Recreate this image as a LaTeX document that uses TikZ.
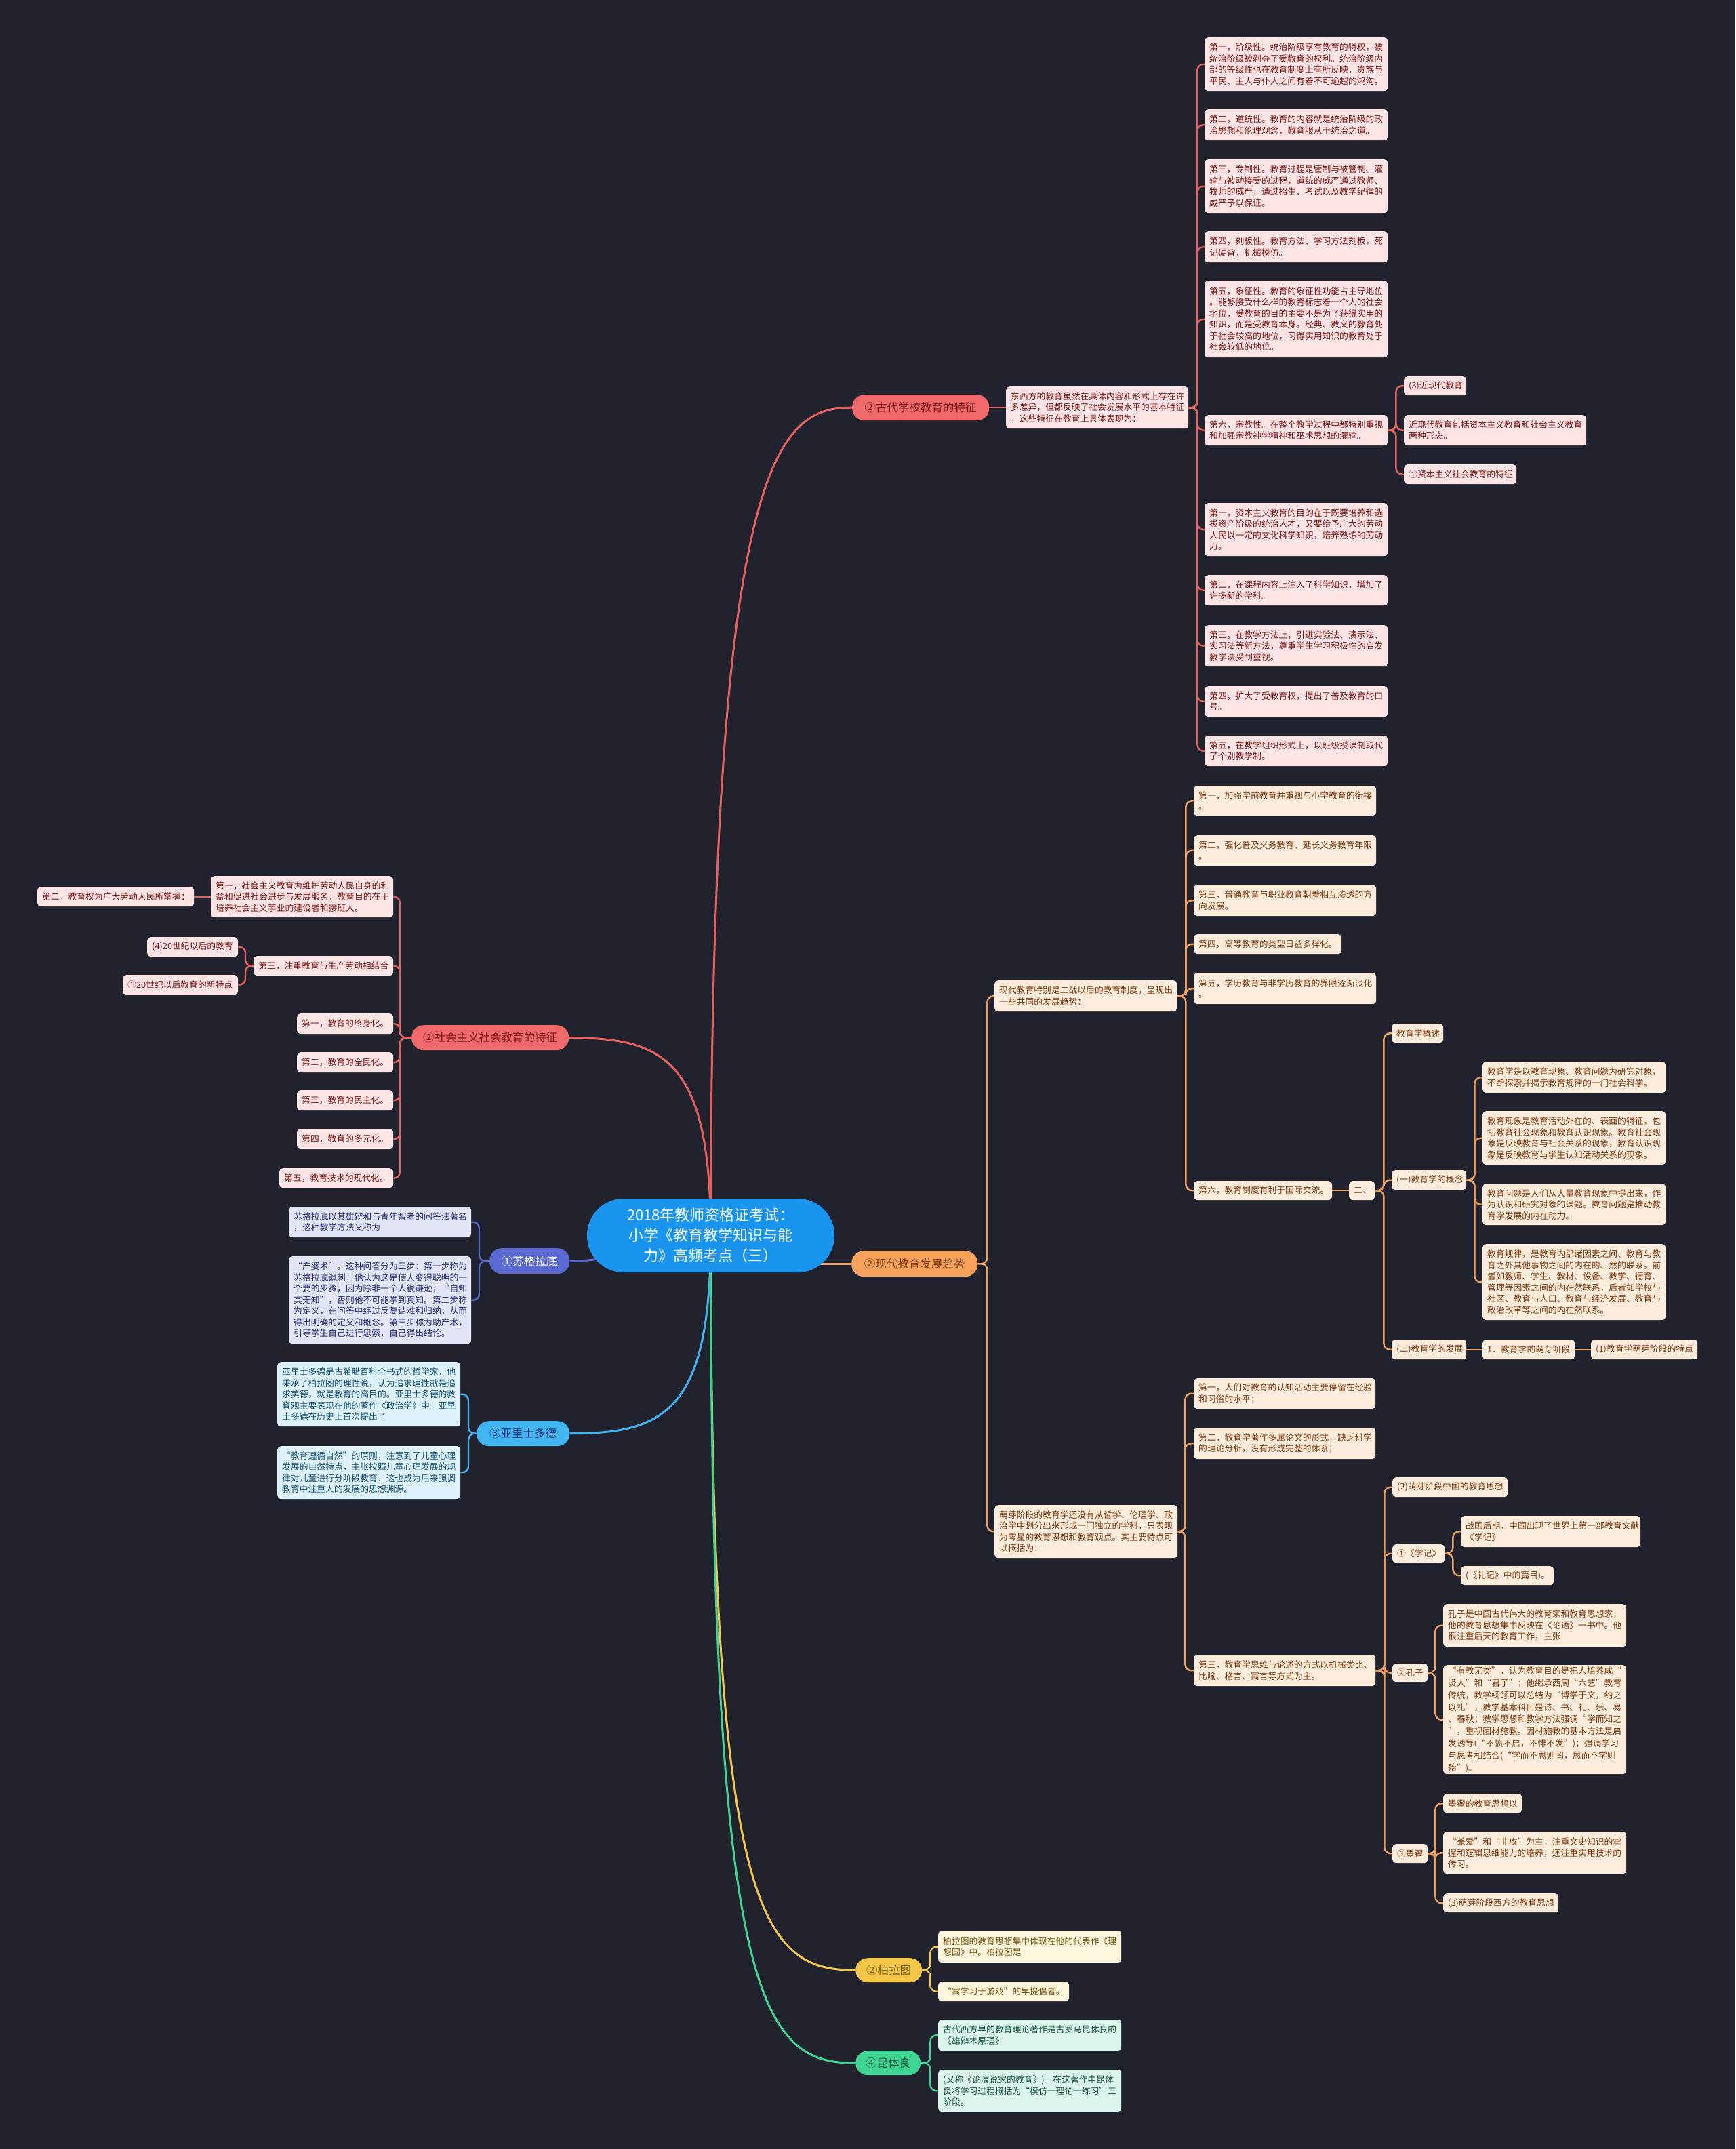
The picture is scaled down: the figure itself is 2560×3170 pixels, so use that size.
\documentclass[tikz,border=0pt]{standalone}
\usepackage{fontspec}
\setmainfont{Noto Sans CJK SC}
\usetikzlibrary{calc}
\definecolor{bgc}{HTML}{20232E}
\definecolor{lnR}{HTML}{E8605E}
\definecolor{fR}{HTML}{FDE4E4}
\definecolor{tR}{HTML}{7A1818}
\definecolor{mR}{HTML}{F0696A}
\definecolor{lnO}{HTML}{F2A05E}
\definecolor{fO}{HTML}{FDEBDC}
\definecolor{tO}{HTML}{7A3C10}
\definecolor{mO}{HTML}{F7A15B}
\definecolor{lnI}{HTML}{5B6AD2}
\definecolor{fI}{HTML}{E2E4F7}
\definecolor{tI}{HTML}{262C6E}
\definecolor{lnB}{HTML}{40B5F2}
\definecolor{fB}{HTML}{DDF2FD}
\definecolor{tB}{HTML}{15506E}
\definecolor{lnY}{HTML}{F5C84A}
\definecolor{fY}{HTML}{FDF5DC}
\definecolor{tY}{HTML}{705510}
\definecolor{lnG}{HTML}{3ED491}
\definecolor{fG}{HTML}{DCF5EA}
\definecolor{tG}{HTML}{165538}
\definecolor{ctr}{HTML}{1A95EF}
\newcommand\leaffont{\fontsize{12.8pt}{16.5pt}\selectfont}
\newcommand\brfont{\fontsize{16.5pt}{20pt}\selectfont}
\newcommand\ctrfont{\fontsize{22pt}{30pt}\selectfont}
\newcommand\nbx[7]{%
  \pgfmathsetmacro\bw{#5-#3}\pgfmathsetmacro\bh{#6-#4}\pgfmathsetmacro\tw{#5-#3-14}%
  \node[#2, anchor=north west, minimum width=\bw pt, minimum height=\bh pt, text width=\tw pt] (#1) at (#3,#4) {#7};}
\pgfdeclarelayer{back}\pgfdeclarelayer{links}
\pgfsetlayers{back,links,main}
\tikzset{
  leaf/.style={rounded corners=5pt, inner xsep=7pt, inner ysep=1pt, align=left, font=\leaffont},
  lR/.style={leaf, fill=fR, text=tR},
  lO/.style={leaf, fill=fO, text=tO},
  lI/.style={leaf, fill=fI, text=tI},
  lB/.style={leaf, fill=fB, text=tB},
  lY/.style={leaf, fill=fY, text=tY},
  lG/.style={leaf, fill=fG, text=tG},
  brbox/.style={rounded corners=18pt, inner xsep=7pt, inner ysep=0pt, align=center, font=\brfont},
  cR/.style={draw=lnR, line width=2.4pt, rounded corners=9pt},
  cO/.style={draw=lnO, line width=2.4pt, rounded corners=9pt},
  cI/.style={draw=lnI, line width=2.4pt, rounded corners=9pt},
  cB/.style={draw=lnB, line width=2.4pt, rounded corners=9pt},
  cY/.style={draw=lnY, line width=2.4pt, rounded corners=9pt},
  cG/.style={draw=lnG, line width=2.4pt, rounded corners=9pt},
  mk/.style={line width=3pt}
}
\begin{document}
\begin{tikzpicture}[x=1pt,y=-1pt]
\begin{pgfonlayer}{back}
\fill[bgc] (0,0) rectangle (2560,3170);
\end{pgfonlayer}
\useasboundingbox (0,0) rectangle (2560,3170);

% center
\node[fill=ctr, text=white, rounded corners=54pt, minimum width=365pt, minimum height=109pt, align=center, font=\ctrfont, inner sep=0pt] (ctr) at (1048.5,1822.5) {2018年教师资格证考试：\\小学《教育教学知识与能\\力》高频考点（三）};

% ---------- red: ancient ----------
\nbx{gudai}{brbox, fill=mR, text=tR}{1257}{582}{1459}{620}{②古代学校教育的特征}
\nbx{gintro}{lR}{1484}{570}{1753}{632}{东西方的教育虽然在具体内容和形式上存在许\\多差异，但都反映了社会发展水平的基本特征\\，这些特征在教育上具体表现为：}
\nbx{a1}{lR}{1777}{55}{2047}{134}{第一，阶级性。统治阶级享有教育的特权，被\\统治阶级被剥夺了受教育的权利。统治阶级内\\部的等级性也在教育制度上有所反映．贵族与\\平民、主人与仆人之间有着不可逾越的鸿沟。}
\nbx{a2}{lR}{1777}{161}{2047}{207}{第二，道统性。教育的内容就是统治阶级的政\\治思想和伦理观念，教育服从于统治之道。}
\nbx{a3}{lR}{1777}{235}{2047}{314}{第三，专制性。教育过程是管制与被管制、灌\\输与被动接受的过程，道统的威严通过教师、\\牧师的威严，通过招生、考试以及教学纪律的\\威严予以保证。}
\nbx{a4}{lR}{1777}{341}{2047}{387}{第四，刻板性。教育方法、学习方法刻板，死\\记硬背，机械模仿。}
\nbx{a5}{lR}{1777}{414}{2047}{527}{第五，象征性。教育的象征性功能占主导地位\\。能够接受什么样的教育标志着一个人的社会\\地位，受教育的目的主要不是为了获得实用的\\知识，而是受教育本身。经典、教义的教育处\\于社会较高的地位，习得实用知识的教育处于\\社会较低的地位。}
\nbx{a6}{lR}{1777}{612}{2047}{657}{第六，宗教性。在整个教学过程中都特别重视\\和加强宗教神学精神和巫术思想的灌输。}
\nbx{jx1}{lR}{2071}{555}{2163}{583}{(3)近现代教育}
\nbx{jx2}{lR}{2071}{612}{2340}{657}{近现代教育包括资本主义教育和社会主义教育\\两种形态。}
\nbx{jx3}{lR}{2071}{685}{2237}{714}{①资本主义社会教育的特征}
\nbx{z1}{lR}{1777}{742}{2047}{820}{第一，资本主义教育的目的在于既要培养和选\\拔资产阶级的统治人才，又要给予广大的劳动\\人民以一定的文化科学知识，培养熟练的劳动\\力。}
\nbx{z2}{lR}{1777}{848}{2047}{893}{第二，在课程内容上注入了科学知识，增加了\\许多新的学科。}
\nbx{z3}{lR}{1777}{922}{2047}{983}{第三，在教学方法上，引进实验法、演示法、\\实习法等新方法，尊重学生学习积极性的启发\\教学法受到重视。}
\nbx{z4}{lR}{1777}{1012}{2047}{1057}{第四，扩大了受教育权，提出了普及教育的口\\号。}
\nbx{z5}{lR}{1777}{1085}{2047}{1130}{第五，在教学组织形式上，以班级授课制取代\\了个别教学制。}

% ---------- red: socialist ----------
\nbx{shehui}{brbox, fill=mR, text=tR}{607}{1512}{839}{1549}{②社会主义社会教育的特征}
\nbx{s1}{lR}{311}{1292}{580}{1353}{第一，社会主义教育为维护劳动人民自身的利\\益和促进社会进步与发展服务，教育目的在于\\培养社会主义事业的建设者和接班人。}
\nbx{s1b}{lR}{55}{1308}{286}{1337}{第二，教育权为广大劳动人民所掌握：}
\nbx{s3}{lR}{374}{1410}{580}{1439}{第三，注重教育与生产劳动相结合}
\nbx{s20a}{lR}{217}{1382}{351}{1411}{(4)20世纪以后的教育}
\nbx{s20b}{lR}{181}{1438}{351}{1467}{①20世纪以后教育的新特点}
\nbx{t1}{lR}{438}{1495}{580}{1525}{第一，教育的终身化。}
\nbx{t2}{lR}{438}{1552}{580}{1582}{第二，教育的全民化。}
\nbx{t3}{lR}{438}{1608}{580}{1638}{第三，教育的民主化。}
\nbx{t4}{lR}{438}{1665}{580}{1695}{第四，教育的多元化。}
\nbx{t5}{lR}{412}{1723}{580}{1752}{第五，教育技术的现代化。}

% ---------- indigo: Socrates ----------
\nbx{sugela}{brbox, fill=lnI, text=white}{722}{1841}{840}{1879}{①苏格拉底}
\nbx{su1}{lI}{426}{1780}{695}{1825}{苏格拉底以其雄辩和与青年智者的问答法著名\\，这种教学方法又称为}
\nbx{su2}{lI}{426}{1853}{695}{1982}{“产婆术”。这种问答分为三步：第一步称为\\苏格拉底讽刺，他认为这是使人变得聪明的一\\个要的步骤，因为除非一个人很谦逊，“自知\\其无知”，否则他不可能学到真知。第二步称\\为定义，在问答中经过反复诘难和归纳，从而\\得出明确的定义和概念。第三步称为助产术，\\引导学生自己进行思索，自己得出结论。}

% ---------- light blue: Aristotle ----------
\nbx{yali}{brbox, fill=lnB, text=tI}{703}{2096}{840}{2133}{③亚里士多德}
\nbx{ya1}{lB}{409}{2009}{679}{2104}{亚里士多德是古希腊百科全书式的哲学家，他\\秉承了柏拉图的理性说，认为追求理性就是追\\求美德，就是教育的高目的。亚里士多德的教\\育观主要表现在他的著作《政治学》中。亚里\\士多德在历史上首次提出了}
\nbx{ya2}{lB}{409}{2133}{679}{2211}{“教育遵循自然”的原则，注意到了儿童心理\\发展的自然特点，主张按照儿童心理发展的规\\律对儿童进行分阶段教育．这也成为后来强调\\教育中注重人的发展的思想渊源。}

% ---------- orange: modern ----------
\nbx{xiandai}{brbox, fill=mO, text=tO}{1256}{1845}{1442}{1883}{②现代教育发展趋势}
\nbx{m1}{lO}{1467}{1446}{1736}{1492}{现代教育特别是二战以后的教育制度，呈现出\\一些共同的发展趋势：}
\nbx{b1}{lO}{1761}{1159}{2030}{1203}{第一，加强学前教育并重视与小学教育的衔接\\。}
\nbx{b2}{lO}{1761}{1232}{2030}{1277}{第二，强化普及义务教育、延长义务教育年限\\。}
\nbx{b3}{lO}{1761}{1305}{2030}{1351}{第三，普通教育与职业教育朝着相互渗透的方\\向发展。}
\nbx{b4}{lO}{1761}{1378}{1979}{1407}{第四，高等教育的类型日益多样化。}
\nbx{b5}{lO}{1761}{1435}{2030}{1481}{第五，学历教育与非学历教育的界限逐渐淡化\\。}
\nbx{b6}{lO}{1761}{1742}{1965}{1770}{第六，教育制度有利于国际交流。}
\nbx{er}{lO}{1990}{1742}{2028}{1770}{二、}
\nbx{gs}{lO}{2053}{1510}{2129}{1538}{教育学概述}
\nbx{gn}{lO}{2053}{1726}{2163}{1755}{(一)教育学的概念}
\nbx{fz}{lO}{2053}{1976}{2163}{2005}{(二)教育学的发展}
\nbx{c1}{lO}{2187}{1566}{2457}{1612}{教育学是以教育现象、教育问题为研究对象，\\不断探索并揭示教育规律的一门社会科学。}
\nbx{c2}{lO}{2187}{1639}{2457}{1718}{教育现象是教育活动外在的、表面的特征，包\\括教育社会现象和教育认识现象。教育社会现\\象是反映教育与社会关系的现象，教育认识现\\象是反映教育与学生认知活动关系的现象。}
\nbx{c3}{lO}{2187}{1746}{2457}{1807}{教育问题是人们从大量教育现象中提出来，作\\为认识和研究对象的课题。教育问题是推动教\\育学发展的内在动力。}
\nbx{c4}{lO}{2187}{1835}{2457}{1947}{教育规律，是教育内部诸因素之间、教育与教\\育之外其他事物之间的内在的、然的联系。前\\者如教师、学生、教材、设备、教学、德育、\\管理等因素之间的内在然联系，后者如学校与\\社区、教育与人口、教育与经济发展、教育与\\政治改革等之间的内在然联系。}
\nbx{my}{lO}{2187}{1976}{2323}{2005}{1．教育学的萌芽阶段}
\nbx{td}{lO}{2347}{1976}{2504}{2005}{(1)教育学萌芽阶段的特点}
\nbx{m2}{lO}{1467}{2220}{1737}{2298}{萌芽阶段的教育学还没有从哲学、伦理学、政\\治学中划分出来形成一门独立的学科，只表现\\为零星的教育思想和教育观点。其主要特点可\\以概括为：}
\nbx{d1}{lO}{1761}{2033}{2029}{2078}{第一，人们对教育的认知活动主要停留在经验\\和习俗的水平；}
\nbx{d2}{lO}{1761}{2106}{2029}{2152}{第二，教育学著作多属论文的形式，缺乏科学\\的理论分析，没有形成完整的体系；}
\nbx{d3}{lO}{1761}{2441}{2029}{2487}{第三，教育学思维与论述的方式以机械类比、\\比喻、格言、寓言等方式为主。}
\nbx{e1}{lO}{2054}{2179}{2224}{2208}{(2)萌芽阶段中国的教育思想}
\nbx{xj}{lO}{2054}{2278}{2131}{2305}{①《学记》}
\nbx{xj1}{lO}{2155}{2236}{2420}{2282}{战国后期，中国出现了世界上第一部教育文献\\《学记》}
\nbx{xj2}{lO}{2155}{2310}{2292}{2338}{(《礼记》中的篇目)。}
\nbx{kz}{lO}{2054}{2454}{2106}{2481}{②孔子}
\nbx{kz1}{lO}{2129}{2366}{2399}{2429}{孔子是中国古代伟大的教育家和教育思想家，\\他的教育思想集中反映在《论语》一书中。他\\很注重后天的教育工作，主张}
\nbx{kz2}{lO, font=\fontsize{12.8pt}{17.8pt}\selectfont}{2129}{2456}{2399}{2617}{“有教无类”，认为教育目的是把人培养成“\\贤人”和“君子”；他继承西周“六艺”教育\\传统，教学纲领可以总结为“博学于文，约之\\以礼”，教学基本科目是诗、书、礼、乐、易\\、春秋；教学思想和教学方法强调“学而知之\\”，重视因材施教。因材施教的基本方法是启\\发诱导(“不愤不启，不悱不发”)；强调学习\\与思考相结合(“学而不思则罔，思而不学则\\殆”)。}
\nbx{md}{lO}{2054}{2720}{2106}{2748}{③墨翟}
\nbx{md1}{lO}{2129}{2646}{2245}{2674}{墨翟的教育思想以}
\nbx{md2}{lO}{2129}{2702}{2399}{2764}{“兼爱”和“非攻”为主，注重文史知识的掌\\握和逻辑思维能力的培养，还注重实用技术的\\传习。}
\nbx{md3}{lO}{2129}{2793}{2299}{2821}{(3)萌芽阶段西方的教育思想}

% ---------- yellow: Plato ----------
\nbx{bolatu}{brbox, fill=lnY, text=tY}{1262}{2888}{1360}{2924}{②柏拉图}
\nbx{bo1}{lY}{1384}{2848}{1654}{2895}{柏拉图的教育思想集中体现在他的代表作《理\\想国》中。柏拉图是}
\nbx{bo2}{lY}{1384}{2923}{1577}{2952}{“寓学习于游戏”的早提倡者。}

% ---------- green: Quintilian ----------
\nbx{kun}{brbox, fill=lnG, text=tG}{1262}{3025}{1358}{3061}{④昆体良}
\nbx{kun1}{lG}{1384}{2979}{1654}{3025}{古代西方早的教育理论著作是古罗马昆体良的\\《雄辩术原理》}
\nbx{kun2}{lG}{1384}{3053}{1654}{3115}{(又称《论演说家的教育》)。在这著作中昆体\\良将学习过程概括为“模仿一理论一练习”三\\阶段。}

% ================= connectors =================
\begin{pgfonlayer}{links}
% main branches
\draw[cR, mk] (ctr.center) .. controls +(0,-1150) and +(-110,0) .. (gudai.west);
\draw[cR, mk] (ctr.center) .. controls +(0,-260) and +(140,0) .. (shehui.east);
\draw[cI, mk] (ctr.center) .. controls +(-120,20) and +(60,0) .. (sugela.east);
\draw[cB, mk] (ctr.center) .. controls +(0,260) and +(140,0) .. (yali.east);
\draw[cO, mk] (xiandai.west) -- ++(-140,0) coordinate (xo);
\draw[cY, mk] (ctr.center) .. controls +(0,1000) and +(-140,0) .. (bolatu.west);
\draw[cG, mk] (ctr.center) .. controls +(0,1130) and +(-140,0) .. (kun.west);

% ancient
\draw[cR] (gudai.east) -- (gintro.west);
\foreach \c in {a1,a2,a3,a4,a5,a6,z1,z2,z3,z4,z5}
  \draw[cR] (gintro.east) -- ++(13,0) |- (\c.west);
\foreach \c in {jx1,jx2,jx3}
  \draw[cR] (a6.east) -- ++(12,0) |- (\c.west);

% socialist
\foreach \c in {s1,s3,t1,t2,t3,t4,t5}
  \draw[cR] (shehui.west) -- ++(-17,0) |- (\c.east);
\draw[cR] (s1.west) -- (s1b.east);
\foreach \c in {s20a,s20b}
  \draw[cR] (s3.west) -- ++(-12,0) |- (\c.east);

% Socrates / Aristotle
\foreach \c in {su1,su2}
  \draw[cI] (sugela.west) -- ++(-15,0) |- (\c.east);
\foreach \c in {ya1,ya2}
  \draw[cB] (yali.west) -- ++(-12,0) |- (\c.east);

% modern
\foreach \c in {m1,m2}
  \draw[cO] (xiandai.east) -- ++(14,0) |- (\c.west);
\foreach \c in {b1,b2,b3,b4,b5,b6}
  \draw[cO] (m1.east) -- ++(13,0) |- (\c.west);
\draw[cO] (b6.east) -- (er.west);
\foreach \c in {gs,gn,fz}
  \draw[cO] (er.east) -- ++(13,0) |- (\c.west);
\foreach \c in {c1,c2,c3,c4}
  \draw[cO] (gn.east) -- ++(12,0) |- (\c.west);
\draw[cO] (fz.east) -- (my.west);
\draw[cO] (my.east) -- (td.west);
\foreach \c in {d1,d2,d3}
  \draw[cO] (m2.east) -- ++(11,0) |- (\c.west);
\foreach \c in {e1,xj,kz,md}
  \draw[cO] (d3.east) -- ++(13,0) |- (\c.west);
\foreach \c in {xj1,xj2}
  \draw[cO] (xj.east) -- ++(12,0) |- (\c.west);
\foreach \c in {kz1,kz2}
  \draw[cO] (kz.east) -- ++(11,0) |- (\c.west);
\foreach \c in {md1,md2,md3}
  \draw[cO] (md.east) -- ++(11,0) |- (\c.west);

% Plato / Quintilian
\foreach \c in {bo1,bo2}
  \draw[cY] (bolatu.east) -- ++(12,0) |- (\c.west);
\foreach \c in {kun1,kun2}
  \draw[cG] (kun.east) -- ++(14,0) |- (\c.west);
\end{pgfonlayer}
\end{tikzpicture}
\end{document}
